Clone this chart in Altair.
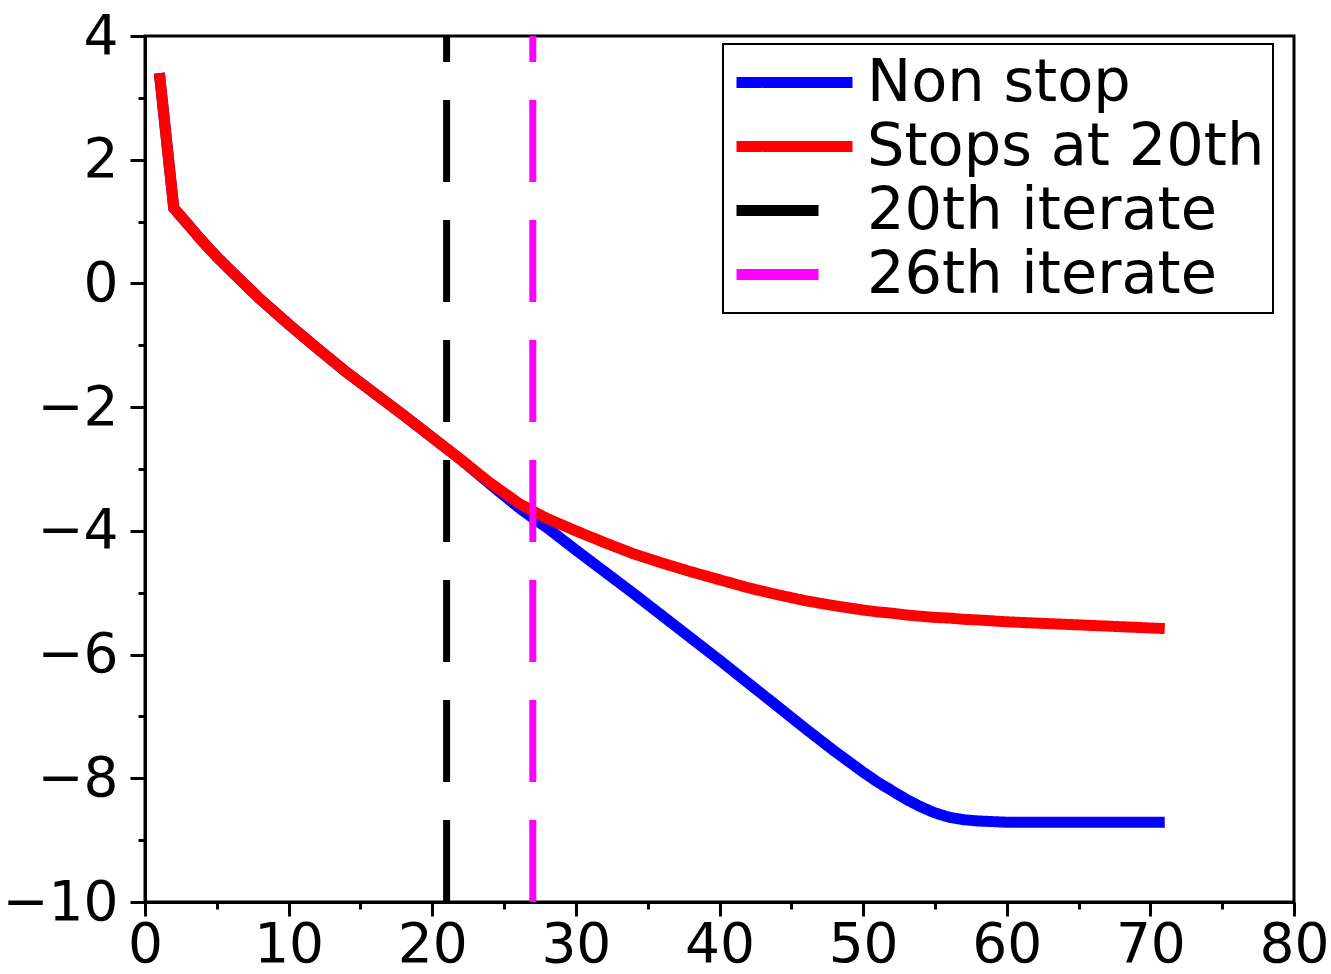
import altair as alt
import pandas as pd

# ---- data ----
iters = [1, 2, 3, 4, 5, 6, 8, 10, 12, 14, 16, 18, 20, 22, 24, 26, 27, 28,
         30, 32, 34, 36, 38, 40, 42, 44, 46, 48, 50, 51, 52, 53, 54, 55, 56,
         57, 58, 60, 62, 64, 66, 68, 70, 71]
non_stop = [3.40, 1.22, 0.95, 0.68, 0.43, 0.20, -0.25, -0.66, -1.05, -1.43,
            -1.78, -2.13, -2.49, -2.85, -3.24, -3.62, -3.79, -3.95,
            -4.31, -4.66, -5.01, -5.37, -5.73, -6.09, -6.46, -6.83, -7.20,
            -7.56, -7.90, -8.06, -8.20, -8.34, -8.46, -8.56, -8.63,
            -8.67, -8.69, -8.71, -8.71, -8.71, -8.71, -8.71, -8.71, -8.71]
stops_20 = [3.40, 1.22, 0.95, 0.68, 0.43, 0.20, -0.25, -0.66, -1.05, -1.43,
            -1.78, -2.13, -2.49, -2.85, -3.22, -3.55, -3.68, -3.80,
            -4.00, -4.19, -4.37, -4.52, -4.66, -4.79, -4.92, -5.03, -5.13,
            -5.21, -5.28, -5.31, -5.33, -5.36, -5.38, -5.40, -5.41,
            -5.43, -5.44, -5.47, -5.49, -5.51, -5.53, -5.55, -5.57, -5.58]
marker_iters = [21, 27]
marker_names = ["20th iterate", "26th iterate"]

series_order = ["Non stop", "Stops at 20th", "20th iterate", "26th iterate"]
series_colors = ["#0000ff", "#ff0000", "#000000", "#ff00ff"]
series_dash = [[1, 0], [1, 0], [82, 38], [82, 38]]

x_ticks = list(range(0, 81, 5))
y_ticks = list(range(-10, 5, 1))

blue_df = pd.DataFrame({"iter": iters, "value": non_stop, "series": "Non stop"})
red_df = pd.DataFrame({"iter": iters, "value": stops_20, "series": "Stops at 20th"})
rule_df = pd.DataFrame({"iter": marker_iters, "series": marker_names})

FONT = "DejaVu Sans"

xscale = alt.Scale(domain=[0, 80], nice=False, zero=False)
yscale = alt.Scale(domain=[-10, 4], nice=False, zero=False)

x_axis = alt.Axis(
    title=None, values=x_ticks, grid=False,
    labelExpr="datum.value % 10 === 0 ? datum.label : ''",
    tickSize={"condition": {"test": "datum.value % 10 === 0", "value": 14}, "value": 7},
    labelPadding=2, labelOverlap=False, labelFlush=False,
)
y_axis = alt.Axis(
    title=None, values=y_ticks, grid=False,
    labelExpr="datum.value % 2 === 0 ? datum.label : ''",
    tickSize={"condition": {"test": "datum.value % 2 === 0", "value": 15}, "value": 7},
    labelPadding=12, labelOverlap=False, labelFlush=False,
)

color = alt.Color("series:N", scale=alt.Scale(domain=series_order, range=series_colors),
                  legend=alt.Legend(title=None))
dash = alt.StrokeDash("series:N", scale=alt.Scale(domain=series_order, range=series_dash),
                      legend=alt.Legend(title=None))

blue = alt.Chart(blue_df).mark_line(strokeWidth=11, interpolate="linear", strokeCap="butt").encode(
    x=alt.X("iter:Q", scale=xscale, axis=x_axis),
    y=alt.Y("value:Q", scale=yscale, axis=y_axis),
    color=color, strokeDash=dash,
)
red = alt.Chart(red_df).mark_line(strokeWidth=11, interpolate="linear", strokeCap="butt").encode(
    x=alt.X("iter:Q", scale=xscale, axis=x_axis),
    y=alt.Y("value:Q", scale=yscale, axis=y_axis),
    color=color, strokeDash=dash,
)
rules = alt.Chart(rule_df).mark_rule(strokeWidth=7, strokeCap="butt").encode(
    x=alt.X("iter:Q", scale=xscale, axis=x_axis),
    y=alt.Y(datum=-10, type="quantitative", scale=yscale, axis=y_axis),
    y2=alt.Y2(datum=4),
    color=color, strokeDash=dash,
)

chart = alt.layer(blue, red, rules).properties(
    width=1149, height=866,
    padding={"left": 145, "top": 36, "right": 37, "bottom": 72},
    autosize=alt.AutoSizeParams(type="none"),
    background="white",
).configure_view(
    stroke="black", strokeWidth=3,
).configure_axis(
    domainColor="black", domainWidth=3, tickColor="black", tickWidth=3,
    labelFont=FONT, labelFontSize=55, labelColor="black",
).configure_legend(
    orient="none", legendX=578, legendY=8,
    strokeColor="black", strokeWidth=2, fillColor="white", padding=8,
    labelFont=FONT, labelFontSize=59, labelColor="black", labelLimit=0,
    symbolType="M-1,0H3.64", symbolSize=2500, symbolStrokeWidth=11,
    labelOffset=75, rowPadding=3, symbolFillColor="transparent",
)

chart.save("out.html", embed_options={"renderer": "svg", "actions": False})
